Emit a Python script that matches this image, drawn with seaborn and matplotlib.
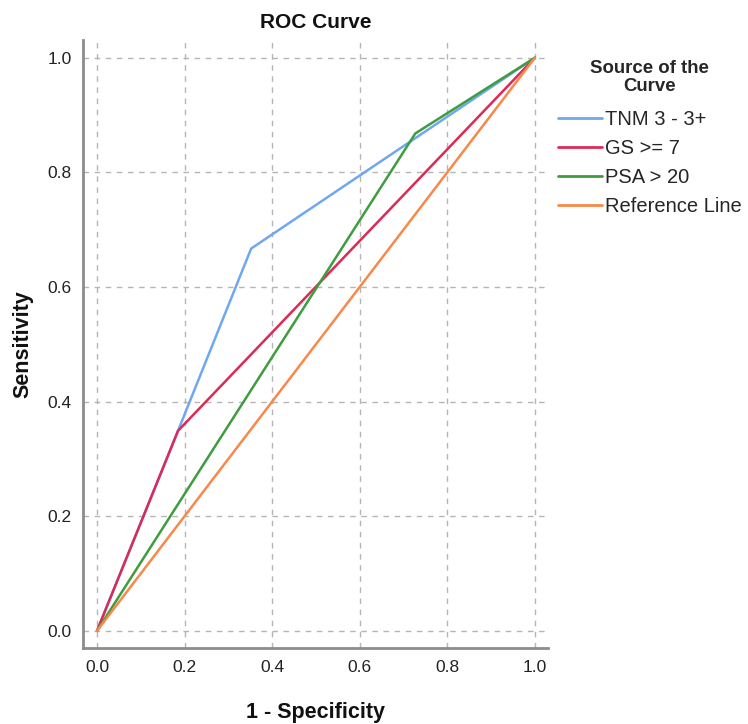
import matplotlib
matplotlib.use("Agg")
import matplotlib.pyplot as plt
import seaborn as sns
import pandas as pd
import numpy as np

# Data
tnm_fpr = [0.0, 0.185, 0.352, 1.0]
tnm_tpr = [0.0, 0.349, 0.667, 1.0]
gs_fpr = [0.0, 0.185, 1.0]
gs_tpr = [0.0, 0.349, 1.0]
psa_fpr = [0.0, 0.727, 1.0]
psa_tpr = [0.0, 0.868, 1.0]
ref_fpr = [0.0, 1.0]
ref_tpr = [0.0, 1.0]

series_names = ["TNM 3 - 3+", "GS >= 7", "PSA > 20", "Reference Line"]
series_colors = ["#6fa8f0", "#dc2a55", "#3f9c3f", "#f7894a"]

frames = []
for name, fx, ty in zip(series_names,
                        [tnm_fpr, gs_fpr, psa_fpr, ref_fpr],
                        [tnm_tpr, gs_tpr, psa_tpr, ref_tpr]):
    frames.append(pd.DataFrame({"fpr": fx, "tpr": ty, "src": name}))
df = pd.concat(frames, ignore_index=True)

sns.set_theme(style="white")
plt.rcParams["font.family"] = ["Liberation Sans", "DejaVu Sans"]

fig = plt.figure(figsize=(7.48, 7.24), dpi=100)
ax = fig.add_axes([83/748, 1 - 648/724, (548-83)/748, (648-40)/724])

sns.lineplot(data=df, x="fpr", y="tpr", hue="src", hue_order=series_names,
             palette=series_colors, sort=False, estimator=None, units="src",
             linewidth=1.8, ax=ax)

ax.set_xlim(-0.032, 1.030)
ax.set_ylim(-0.030, 1.031)
ticks = [0.0, 0.2, 0.4, 0.6, 0.8, 1.0]
ax.set_xticks(ticks)
ax.set_yticks(ticks)
ax.set_xticklabels([f"{t:.1f}" for t in ticks])
ax.set_yticklabels([f"{t:.1f}" for t in ticks])
ax.tick_params(axis="x", length=0, labelsize=12.5, labelcolor="#222222", pad=9)
ax.tick_params(axis="y", length=0, labelsize=12.5, labelcolor="#222222", pad=8)
ax.grid(True, color="#b5b5b5", linestyle=(0, (4, 4)), linewidth=1.0)
ax.set_axisbelow(True)

for s in ["top", "right"]:
    ax.spines[s].set_visible(False)
for s in ["left", "bottom"]:
    ax.spines[s].set_color("#8c8c8c")
    ax.spines[s].set_linewidth(2.0)

ax.set_xlabel("1 - Specificity", fontsize=15.5, fontweight="bold", color="#111111", labelpad=19)
ax.set_ylabel("Sensitivity", fontsize=15.5, fontweight="bold", color="#111111", labelpad=10)
ax.set_title("ROC Curve", fontsize=15, fontweight="bold", color="#111111", pad=9)

leg = ax.legend(title="Source of the\nCurve", loc="upper left",
                bbox_to_anchor=(1.005, 0.980), frameon=False, fontsize=14.5,
                title_fontproperties={"weight": "bold", "size": 13.4},
                handlelength=2.15, handletextpad=0.15, labelspacing=0.5,
                borderaxespad=0.0)
leg._legend_box.align = "center"
leg._legend_box.sep = 11
leg.get_title().set_multialignment("center")
leg.get_title().set_linespacing(1.05)
for line in leg.get_lines():
    line.set_linewidth(2.0)

fig.savefig("out.png", dpi=100)
